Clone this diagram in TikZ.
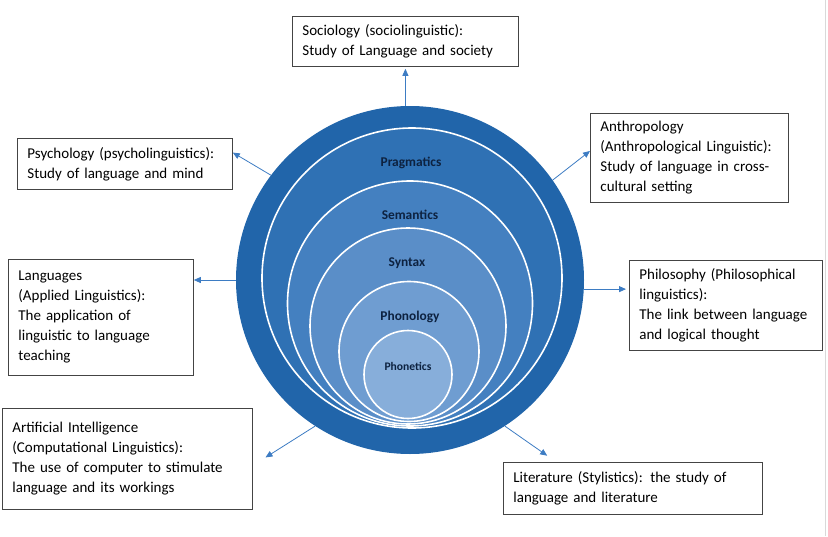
\documentclass[tikz,border=0pt]{standalone}
\usepackage{fontspec}
\setmainfont{Carlito}
\usetikzlibrary{arrows.meta}

\definecolor{ringdark}{HTML}{2165AA}
\definecolor{pragfill}{HTML}{2F71B4}
\definecolor{semfill}{HTML}{4480C0}
\definecolor{synfill}{HTML}{5A8EC8}
\definecolor{phonfill}{HTML}{6F9DD1}
\definecolor{phonetfill}{HTML}{87AEDA}
\definecolor{labelnavy}{HTML}{0D2240}
\definecolor{arrowblue}{HTML}{3D7CC3}
\definecolor{boxgray}{HTML}{444444}

\tikzset{
  layer/.style={circle, draw=white, line width=1.6pt, inner sep=0pt},
  layertext/.style={font=\bfseries\fontsize{13.4}{16}\selectfont, text=labelnavy},
  infobox/.style={draw=boxgray, line width=0.8pt, anchor=north west, align=left,
    inner xsep=10pt, font=\fontsize{15}{20}\selectfont},
  link/.style={draw=arrowblue, line width=0.8pt, -{Triangle[length=7pt,width=6pt]}}
}

\begin{document}
\begin{tikzpicture}[x=1pt, y=-1pt]
    \useasboundingbox (0,0) rectangle (828,536);
    \draw[gray!30, line width=1pt] (825,0) -- (825,536);

    % nested circles
    \node[circle, fill=ringdark, minimum size=348pt, inner sep=0pt] (outer) at (410,280) {};
    \node[layer, fill=pragfill, minimum size=300pt] (pragmatics) at (412,278) {};
    \node[layer, fill=semfill, minimum size=245pt] (semantics) at (410,303.5) {};
    \node[layer, fill=synfill, minimum size=196pt] (syntax) at (408,326) {};
    \node[layer, fill=phonfill, minimum size=140pt] (phonology) at (409,351.5) {};
    \node[layer, fill=phonetfill, minimum size=88pt] (phonetics) at (408,374.5) {};

    \node[layertext] (lblprag) at (411,163) {Pragmatics};
    \node[layertext] (lblsem) at (410,215) {Semantics};
    \node[layertext] (lblsyn) at (407,263) {Syntax};
    \node[layertext] (lblphon) at (410,317) {Phonology};
    \node[layertext, font=\bfseries\fontsize{11.6}{14}\selectfont] (lblphonet) at (408,366) {Phonetics};

    % boxes
    \node[infobox, text width=206pt, minimum height=50pt] (socio) at (292,16)
        {Sociology (sociolinguistic):\\Study of Language and society};
    \node[infobox, text width=195pt, minimum height=51pt] (psych) at (17,138)
        {Psychology (psycholinguistics):\\Study of language and mind};
    \node[infobox, text width=178pt, minimum height=89pt] (anthro) at (590,113)
        {Anthropology\\(Anthropological Linguistic):\\Study of language in cross-\\cultural setting};
    \node[infobox, text width=165pt, minimum height=116pt] (lang) at (8,259)
        {Languages\\(Applied Linguistics):\\The application of\\linguistic to language\\teaching};
    \node[infobox, text width=173pt, minimum height=90pt] (phil) at (629,260)
        {Philosophy (Philosophical\\linguistics):\\The link between language\\and logical thought};
    \node[infobox, text width=230pt, minimum height=101pt] (ai) at (2,408)
        {Artificial Intelligence\\(Computational Linguistics):\\The use of computer to stimulate\\language and its workings};
    \node[infobox, text width=239pt, minimum height=52pt] (lit) at (503,462)
        {Literature (Stylistics): the study of\\language and literature};

    % arrows
    \draw[link, shorten >=2pt] (socio.south |- outer.north) -- (socio.south);
    \draw[link] (outer.143) -- (psych.6);
    \draw[link] (outer.35) -- (anthro.176);
    \draw[link] (outer.west) -- (outer.west -| lang.east);
    \draw[link, shorten >=3pt] (outer.-3) -- (outer.-3 -| phil.west);
    \draw[link, shorten >=15pt] (outer.237) -- (ai.-3);
    \draw[link, shorten >=11pt] (outer.303) -- (lit.161);
\end{tikzpicture}
\end{document}
